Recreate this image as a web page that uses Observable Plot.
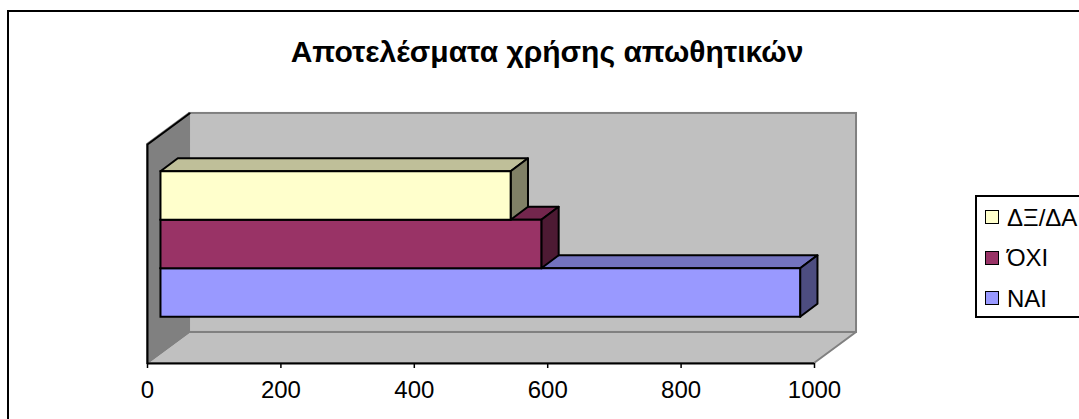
<!DOCTYPE html>
<html lang="el">
<head>
<meta charset="utf-8">
<script src="https://cdn.jsdelivr.net/npm/d3@7"></script>
<script src="https://cdn.jsdelivr.net/npm/@observablehq/plot@0.6"></script>
<style>
  html, body { margin: 0; padding: 0; background: #fff; width: 1079px; height: 419px; overflow: hidden; }
  body, text { font-family: "Liberation Sans", Arial, sans-serif; }
  #page { position: relative; width: 1079px; height: 419px; overflow: hidden; }
  #page svg { position: absolute; left: 0; top: 0; }
  #frame { position: absolute; left: 7px; top: 10px; width: 1100px; height: 450px; border: 2px solid #000; }
  #title { position: absolute; left: 147px; width: 800px; top: 35px; text-align: center; font-weight: bold; font-size: 30px; line-height: 34px; color: #000; }
  #legend { position: absolute; left: 975px; top: 195px; width: 140px; height: 119px; background: #fff; border: 2px solid #000; }
  .entry { position: absolute; left: 8px; height: 24px; line-height: 24px; font-size: 24px; padding-left: 22px; color: #000; white-space: nowrap; }
  .entry i { position: absolute; left: 0; top: 4.5px; width: 12px; height: 12px; border: 1.5px solid #000; box-sizing: content-box; }
</style>
</head>
<body>
<div id="page">
  <div id="frame"></div>
  <div id="title"></div>
  <div id="legend"></div>
</div>
<script>
const chartTitle = "Αποτελέσματα χρήσης απωθητικών";
const seriesNames = ["ΝΑΙ", "ΌΧΙ", "ΔΞ/ΔΑ"];
const seriesValues = [959, 571, 525];
const frontColors = ["#9999ff", "#993366", "#ffffcc"];
const topColors = ["#7373bf", "#73264d", "#bfbf99"];
const sideColors = ["#4d4d80", "#4d1a33", "#808066"];
const tickValues = [0, 200, 400, 600, 800, 1000];

// Oblique projection, in data units: one y unit is the thickness of a bar.
const maxValue = 1000;
const maxY = 4.515;
const wallDx = 63, wallDy = 0.64;      // depth of the box
const barDx = 20.2, barDy = 0.196;     // where bars start inside the box
const depthDx = 26, depthDy = 0.268;   // depth of a bar
const firstBarY = (maxY - seriesValues.length) / 2;

const bars = seriesValues.map((value, i) => ({
  i,
  x0: barDx,
  x1: barDx + value,
  y0: firstBarY + barDy + i,
  y1: firstBarY + barDy + i + 1
}));

const edge = {stroke: "#000", strokeWidth: 2};
const grayEdge = {stroke: "#808080", strokeWidth: 2};

// Back wall, floor and left wall of the box.
const wallMarks = [
  Plot.rect([{}], {x1: wallDx, x2: maxValue + wallDx, y1: wallDy, y2: maxY + wallDy, fill: "#c0c0c0", inset: 0, ...grayEdge}),
  Plot.areaX([
    {y: 0, a: 0, b: maxValue},
    {y: wallDy, a: wallDx, b: maxValue + wallDx}
  ], {x1: "a", x2: "b", y: "y", fill: "#c0c0c0", ...grayEdge}),
  Plot.areaY([
    {x: 0, a: 0, b: maxY},
    {x: wallDx, a: wallDy, b: maxY + wallDy}
  ], {x: "x", y1: "a", y2: "b", fill: "#808080", ...grayEdge}),
  Plot.line([
    {x: 0, y: 0},
    {x: 0, y: maxY},
    {x: wallDx, y: maxY + wallDy}
  ], {x: "x", y: "y", ...edge})
];

// Each bar: top face, end face, then the front, from the lowest bar upward.
const barMarks = bars.flatMap(b => [
  Plot.areaX([
    {y: b.y1, a: b.x0, c: b.x1},
    {y: b.y1 + depthDy, a: b.x0 + depthDx, c: b.x1 + depthDx}
  ], {x1: "a", x2: "c", y: "y", fill: topColors[b.i], ...edge}),
  Plot.areaY([
    {x: b.x1, a: b.y0, c: b.y1},
    {x: b.x1 + depthDx, a: b.y0 + depthDy, c: b.y1 + depthDy}
  ], {x: "x", y1: "a", y2: "c", fill: sideColors[b.i], ...edge}),
  Plot.rect([b], {x1: "x0", x2: "x1", y1: "y0", y2: "y1", fill: frontColors[b.i], ...edge})
]);

const chart = Plot.plot({
  width: 1079,
  height: 419,
  marginTop: 0,
  marginLeft: 0,
  marginRight: 0,
  marginBottom: 56,
  style: {background: "transparent", color: "#000", fontFamily: "'Liberation Sans', Arial, sans-serif"},
  x: {domain: [0, maxValue], range: [147, 814]},
  y: {domain: [0, maxY], range: [363, 144], axis: null},
  marks: [
    ...wallMarks,
    ...barMarks,
    Plot.ruleY([0], {x1: 0, x2: maxValue, ...edge}),
    Plot.axisX({ticks: tickValues, tickFormat: d => String(d), label: null, anchor: "bottom", tickSize: 5, tickPadding: 12, fontSize: 24, strokeWidth: 1.5})
  ]
});
document.getElementById("page").insertBefore(chart, document.getElementById("frame").nextSibling);
document.getElementById("title").textContent = chartTitle;

// Legend lists the series from the top bar down.
const legend = document.getElementById("legend");
[2, 1, 0].forEach((s, row) => {
  const entry = document.createElement("div");
  entry.className = "entry";
  entry.style.top = (8.5 + row * 40.5) + "px";
  const swatch = document.createElement("i");
  swatch.style.background = frontColors[s];
  entry.append(swatch, seriesNames[s]);
  legend.append(entry);
});
</script>
</body>
</html>
